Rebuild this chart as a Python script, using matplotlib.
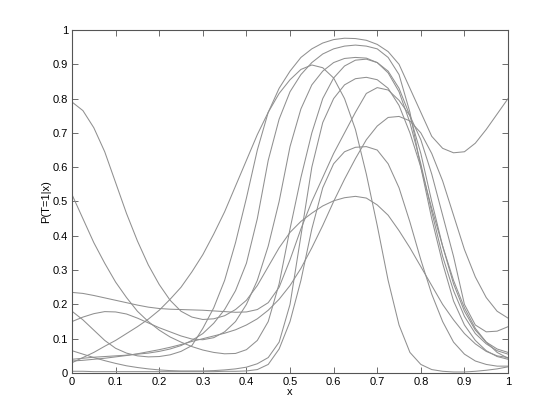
import numpy as np
import matplotlib
matplotlib.use('Agg')
import matplotlib.pyplot as plt

plt.rcParams['font.family'] = ['Liberation Sans', 'DejaVu Sans']

x = np.linspace(0, 1, 41)

# curves, one value every 0.025
A = [.79, .765, .715, .645, .555, .465, .385, .315, .258, .212, .18, .163, .156, .158, .167, .185, .212, .255, .31, .365,
     .41, .442, .466, .487, .502, .511, .515, .51, .49, .46, .415, .365, .31, .255, .2, .155, .115, .085, .063, .05, .045]
H = [.03, .045, .06, .078, .095, .115, .135, .157, .183, .215, .25, .295, .345, .405, .47, .545, .62, .695, .76, .815,
     .855, .885, .898, .89, .86, .8, .71, .58, .43, .27, .14, .06, .025, .01, .005, .003, .003, .005, .008, .012, .018]
D = [.18, .155, .125, .095, .072, .058, .05, .047, .048, .053, .063, .08, .13, .19, .27, .38, .51, .65, .76, .83,
     .88, .92, .945, .962, .972, .976, .975, .97, .958, .937, .9, .83, .76, .69, .655, .642, .645, .67, .71, .755, .80]
G = [.04, .043, .046, .048, .05, .052, .055, .058, .063, .07, .08, .095, .115, .145, .185, .24, .32, .45, .62, .74,
     .82, .87, .905, .93, .945, .953, .956, .953, .945, .92, .87, .76, .6, .45, .32, .21, .14, .095, .065, .048, .04]
E = [.15, .163, .173, .179, .178, .172, .16, .146, .132, .12, .108, .099, .097, .103, .12, .15, .2, .27, .37, .5,
     .66, .77, .84, .88, .905, .917, .92, .918, .905, .875, .82, .73, .61, .47, .34, .24, .165, .115, .085, .065, .055]
B = [.52, .45, .38, .32, .265, .22, .18, .15, .125, .105, .09, .077, .067, .06, .056, .057, .068, .095, .15, .26,
     .42, .57, .7, .8, .86, .895, .912, .915, .905, .88, .83, .75, .64, .5, .37, .26, .18, .125, .09, .07, .06]
F = [.065, .055, .045, .036, .028, .021, .016, .012, .009, .007, .006, .006, .006, .007, .009, .012, .017, .027, .045, .09,
     .2, .4, .6, .73, .8, .84, .858, .862, .855, .83, .78, .7, .6, .48, .37, .27, .19, .13, .09, .06, .043]
I = [.005, .005, .004, .004, .004, .004, .004, .004, .004, .004, .004, .004, .004, .004, .005, .005, .006, .01, .025, .07,
     .15, .27, .42, .54, .61, .645, .658, .66, .65, .61, .54, .44, .33, .23, .15, .09, .055, .035, .025, .02, .02]
C = [.235, .232, .226, .219, .212, .205, .198, .192, .188, .186, .185, .184, .183, .181, .179, .177, .178, .185, .205, .25,
     .33, .42, .5, .57, .64, .7, .76, .815, .832, .825, .795, .75, .68, .58, .46, .34, .2, .14, .12, .122, .135]
J = [.035, .037, .04, .043, .047, .051, .056, .062, .068, .075, .083, .092, .1, .108, .116, .126, .14, .158, .183, .215,
     .255, .305, .365, .43, .5, .565, .625, .68, .72, .745, .748, .735, .7, .64, .56, .46, .36, .28, .22, .18, .16]

curves = [A, H, D, G, E, B, F, I, C, J]

fig = plt.figure(figsize=(5.6, 4.2), dpi=100)
ax = fig.add_axes([0.1286, 0.1119, 0.7786, 0.8167])
for c in curves:
    ax.plot(x, c, color='#909090', lw=0.75)

ax.set_xlim(0, 1)
ax.set_ylim(0, 1)
ticks = np.arange(0, 1.01, 0.1)
labels = ['0'] + ['%.1f' % t for t in ticks[1:-1]] + ['1']
ax.set_xticks(ticks)
ax.set_xticklabels(labels)
ax.set_yticks(ticks)
ax.set_yticklabels(labels)
ax.tick_params(direction='in', top=True, right=True, length=4, width=0.6,
               labelsize=8, pad=3, color='#555555')
for s in ax.spines.values():
    s.set_color('#555555')
    s.set_linewidth(0.8)
ax.set_xlabel('x', fontsize=8, labelpad=0)
ax.set_ylabel('P(T=1|x)', fontsize=8, labelpad=1)

fig.savefig('out.png', dpi=100)
